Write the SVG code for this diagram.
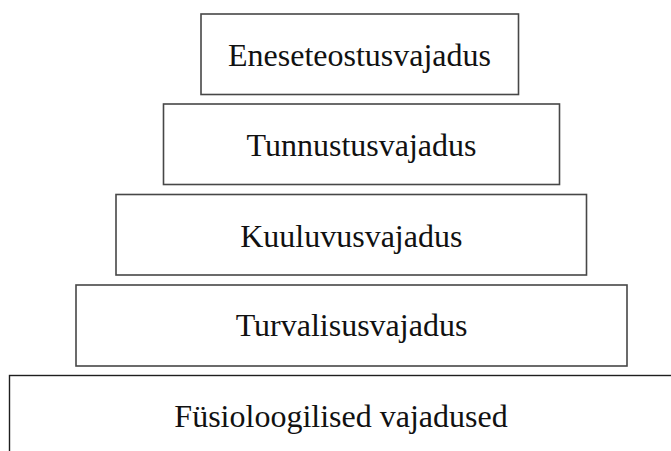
<svg xmlns="http://www.w3.org/2000/svg" width="671" height="451" viewBox="0 0 671 451">
  <style>
    .box { fill: #ffffff; stroke: #474747; stroke-width: 1.6; }
    .base { fill: #ffffff; stroke: #1e1e1e; stroke-width: 1.4; }
    .label { font-family: "Liberation Serif", "Times New Roman", serif; font-size: 32px; fill: #111111; text-anchor: middle; }
  </style>
  <rect width="671" height="451" fill="#ffffff"/>
  <g id="fusioloogilised">
    <rect class="base" x="9.5" y="375.5" width="680" height="100"/>
    <text class="label" x="341" y="427">Füsioloogilised vajadused</text>
  </g>
  <g id="turvalisus">
    <rect class="box" x="76" y="285" width="551" height="81"/>
    <text class="label" x="351.5" y="336">Turvalisusvajadus</text>
  </g>
  <g id="kuuluvus">
    <rect class="box" x="116" y="194.5" width="470.5" height="80.5"/>
    <text class="label" x="351.3" y="246.5">Kuuluvusvajadus</text>
  </g>
  <g id="tunnustus">
    <rect class="box" x="163.5" y="104" width="396" height="80.5"/>
    <text class="label" x="361.5" y="156">Tunnustusvajadus</text>
  </g>
  <g id="eneseteostus">
    <rect class="box" x="201" y="14" width="317.5" height="80.5"/>
    <text class="label" x="359.5" y="66">Eneseteostusvajadus</text>
  </g>
  <g id="connectors"/>
</svg>
